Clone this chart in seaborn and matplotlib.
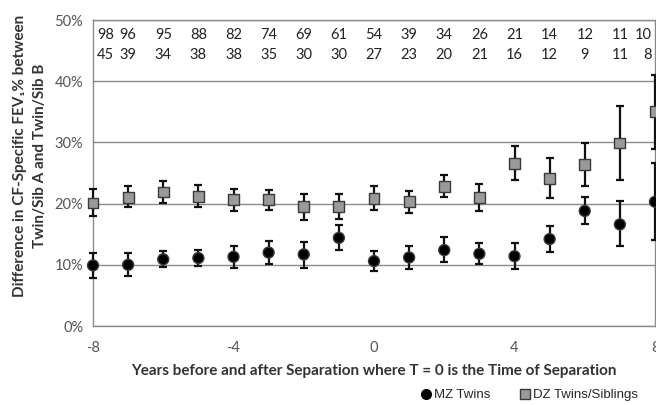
import matplotlib
matplotlib.use('Agg')
import matplotlib.pyplot as plt
from matplotlib.lines import Line2D
import numpy as np
import pandas as pd
import seaborn as sns

# years relative to separation
years = list(range(-8, 9))

# MZ twins: mean difference (%) and error bar ends
mz_mean = [9.9, 10.0, 10.9, 11.1, 11.3, 12.0, 11.7, 14.4, 10.6, 11.2, 12.4, 11.8, 11.4, 14.2, 18.8, 16.6, 20.3]
mz_low = [7.8, 8.1, 9.7, 9.8, 9.5, 10.1, 9.4, 12.4, 9.0, 9.3, 10.4, 10.1, 9.3, 12.1, 16.7, 13.1, 14.0]
mz_high = [12.0, 12.0, 12.3, 12.4, 13.0, 13.9, 13.8, 16.5, 12.3, 13.1, 14.5, 13.5, 13.5, 16.3, 21.1, 20.4, 26.6]

# DZ twins / siblings
dz_mean = [20.1, 21.0, 21.9, 21.2, 20.6, 20.6, 19.5, 19.6, 20.9, 20.3, 22.8, 21.0, 26.6, 24.1, 26.4, 29.9, 35.0]
dz_low = [17.9, 19.4, 20.1, 19.5, 18.8, 18.9, 17.4, 17.5, 19.0, 18.4, 21.0, 18.8, 23.9, 20.9, 22.8, 23.9, 29.0]
dz_high = [22.4, 22.8, 23.7, 23.0, 22.4, 22.3, 21.5, 21.6, 22.8, 22.0, 24.6, 23.2, 29.4, 27.4, 29.9, 35.9, 41.0]

# number of pairs at each year
mz_n = [98, 96, 95, 88, 82, 74, 69, 61, 54, 39, 34, 26, 21, 14, 12, 11, 10]
dz_n = [45, 39, 34, 38, 38, 35, 30, 30, 27, 23, 20, 21, 16, 12, 9, 11, 8]

sns.set_style('white')
plt.rcParams['font.family'] = ['Lato', 'DejaVu Sans']

df = pd.DataFrame({
    'year': years * 2,
    'value': mz_mean + dz_mean,
    'group': ['MZ Twins'] * len(years) + ['DZ Twins/Siblings'] * len(years),
})

fig = plt.figure(figsize=(6.56, 4.05), dpi=100)
ax = fig.add_axes([93 / 656, 79 / 405, 562 / 656, 306 / 405])

grid_col = '#8a8a8a'
ax.set_ylim(0, 50)
ax.set_xlim(-8, 8)
ax.set_yticks([0, 10, 20, 30, 40, 50])
ax.yaxis.grid(True, color=grid_col, linewidth=1.0)
ax.set_axisbelow(True)

# error bars
for mean, lo, hi in [(mz_mean, mz_low, mz_high), (dz_mean, dz_low, dz_high)]:
    mean = np.array(mean)
    err = np.vstack([mean - np.array(lo), np.array(hi) - mean])
    ax.errorbar(years, mean, yerr=err, fmt='none', ecolor='#111111',
                elinewidth=1.6, capsize=3, capthick=1.6, zorder=3, clip_on=False)

sns.scatterplot(data=df, x='year', y='value', hue='group', style='group',
                markers={'MZ Twins': 'o', 'DZ Twins/Siblings': 's'},
                palette={'MZ Twins': 'black', 'DZ Twins/Siblings': '#9a9a9a'},
                s=62, linewidth=1.0, edgecolor='#3a3a3a', ax=ax, legend=False,
                zorder=4, clip_on=False)

# counts at the top
for i, (x, a, b) in enumerate(zip(years, mz_n, dz_n)):
    ha = 'center'
    dx = 0
    if i == 0:
        ha, dx = 'left', 0.12
    elif i == len(years) - 1:
        ha, dx = 'right', -0.1
    ax.text(x + dx, 47.5, str(a), ha=ha, va='center', fontsize=10.5, color='#222222')
    ax.text(x + dx, 44.2, str(b), ha=ha, va='center', fontsize=10.5, color='#222222')

for s in ax.spines.values():
    s.set_color(grid_col)
    s.set_linewidth(1.0)

ax.set_xticks([-8, -4, 0, 4, 8])
ax.set_xticklabels(['-8', '-4', '0', '4', '8'])
ax.set_yticklabels([f'{v}%' for v in [0, 10, 20, 30, 40, 50]])
ax.tick_params(axis='x', direction='inout', length=6, color=grid_col, labelsize=10.5,
               labelcolor='#555555', pad=8)
ax.tick_params(axis='y', direction='out', length=4, color=grid_col, labelsize=10.5,
               labelcolor='#555555', pad=3)

ax.set_xlabel('Years before and after Separation where T = 0 is the Time of Separation',
              fontsize=11, fontweight='bold', color='#333333', labelpad=6)
ax.set_ylabel('Difference in CF-Specific FEV\u2081% between\nTwin/Sib A and Twin/Sib B',
              fontsize=11, fontweight='bold', color='#333333', linespacing=1.5)
ax.yaxis.set_label_coords(-0.082, 0.556)

handles = [
    Line2D([], [], marker='o', color='black', linestyle='none', markersize=7),
    Line2D([], [], marker='s', markerfacecolor='#9a9a9a', markeredgecolor='#3a3a3a',
           color='#9a9a9a', linestyle='none', markersize=7),
]
fig.legend(handles, ['MZ Twins', 'DZ Twins/Siblings'], ncol=2, frameon=False,
           loc='lower right', bbox_to_anchor=(0.99, -0.02), handletextpad=0.0,
           handlelength=1.2, columnspacing=2.0,
           prop={'family': 'Liberation Sans', 'size': 9.5})

fig.savefig('out.png', dpi=100)
